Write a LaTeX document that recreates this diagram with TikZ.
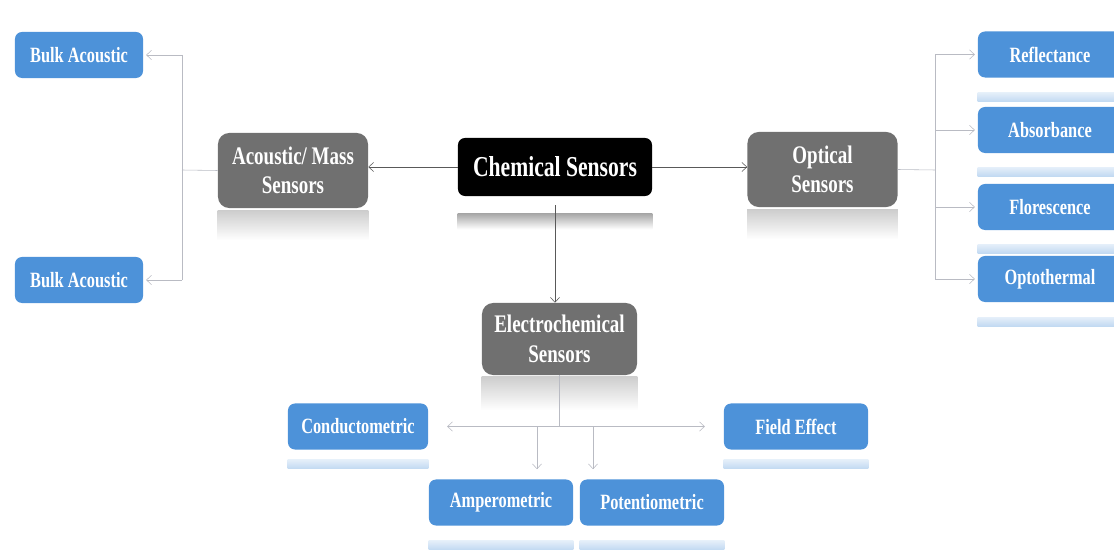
\documentclass[tikz,border=0pt]{standalone}
\usepackage{fontspec}
\newfontfamily\boxfont{Liberation Serif}[FakeStretch=0.75]
\usetikzlibrary{calc,arrows.meta}

\definecolor{boxblue}{RGB}{77,146,217}
\definecolor{boxgray}{RGB}{112,112,112}
\definecolor{linkgray}{RGB}{185,187,195}

\tikzset{
  bluebox/.style={fill=boxblue, rounded corners=5pt, text=white, inner sep=0pt,
    font=\boxfont\bfseries\fontsize{15.5}{17}\selectfont,
    minimum width=3.6cm, minimum height=1.15cm},
  graybox/.style={fill=boxgray, rounded corners=8pt, text=white, align=center, inner sep=0pt,
    font=\boxfont\bfseries\fontsize{18}{21}\selectfont,
    minimum width=3.75cm, minimum height=1.875cm},
  mainlink/.style={draw=black!65, ->},
  sublink/.style={draw=linkgray, ->},
}

\begin{document}
\begin{tikzpicture}[x=0.025cm, y=-0.025cm, >={Straight Barb[length=3.5pt,width=6.5pt]}]
\useasboundingbox (0,0) rectangle (1114,551);

% centre and first level
\node[fill=black, rounded corners=5pt, text=white, inner sep=0pt,
      font=\boxfont\bfseries\fontsize{20.5}{24}\selectfont,
      minimum width=4.85cm, minimum height=1.45cm] (chem) at (555,167) {Chemical Sensors};
\node[graybox] (acou) at (293,170.5) {Acoustic/ Mass\\Sensors};
\node[graybox] (opt) at (822.5,169.5) {Optical\\Sensors};
\node[graybox, minimum width=3.875cm, minimum height=1.8cm] (elec) at (559.5,339) {Electrochemical\\Sensors};

% acoustic side
\node[bluebox, minimum width=3.2cm] (bulka) at (79,55) {Bulk Acoustic};
\node[bluebox, minimum width=3.2cm] (bulkb) at (79,280) {Bulk Acoustic};

% optical side
\node[bluebox] (refl) at (1050,54.5) {Reflectance};
\node[bluebox] (absorb) at (1050,130) {Absorbance};
\node[bluebox] (flor) at (1050,207) {Florescence};
\node[bluebox] (opto) at (1050,279) {Optothermal};

% electrochemical side
\node[bluebox, minimum width=3.5cm] (cond) at (358,426.5) {Conductometric};
\node[bluebox] (field) at (796,426.5) {Field Effect};
\node[bluebox] (amp) at (501,502.5) {Amperometric};
\node[bluebox] (pot) at (652,502.5) {Potentiometric};

% reflections
\foreach \n/\c/\g/\h in {chem/black/17/16, acou/boxgray/2/30, opt/boxgray/2/30, elec/boxgray/1/34}
  \shade[top color=\c!35, bottom color=white] ($(\n.south west)+(0,\g)$) rectangle ($(\n.south east)+(0,\g+\h)$);
\foreach \n/\g in {refl/15, absorb/14, flor/14, opto/15, cond/10, field/10, amp/15, pot/15}
  \shade[top color=boxblue!15, bottom color=boxblue!35] ($(\n.south west)+(0,\g)$) rectangle ($(\n.south east)+(0,\g+9)$);

% main arrows
\draw[mainlink] (chem.west) -- (chem.west -| acou.east);
\draw[mainlink] (chem.east) -- (chem.east -| opt.west);
\draw[mainlink] (chem.south) ++(0,9) -- (chem.south |- elec.north);

% acoustic branches
\coordinate (acj) at (182,170);
\draw[linkgray] (acou.west) -- (acj);
\draw[linkgray] (acj |- bulka) -- (acj |- bulkb);
\draw[sublink, shorten >=2pt] (acj |- bulka) -- (bulka.east);
\draw[sublink, shorten >=2pt] (acj |- bulkb) -- (bulkb.east);

% optical branches
\coordinate (opj) at (935,170);
\draw[linkgray] (opt.east) -- (opj);
\draw[linkgray] (opj |- refl) -- (opj |- opto);
\foreach \n in {refl,absorb,flor,opto}
  \draw[sublink, shorten >=2pt] (opj |- \n) -- (\n.west);

% electrochemical branches
\draw[linkgray] (elec.south) -- (elec.south |- cond.east);
\draw[sublink, <->, shorten <=0.47cm, shorten >=0.47cm] (cond.east) -- (field.west);
\coordinate (ampj) at (537,427);
\coordinate (potj) at (593,427);
\draw[sublink, shorten >=0.25cm] (ampj) -- (ampj |- amp.north);
\draw[sublink, shorten >=0.25cm] (potj) -- (potj |- pot.north);
\end{tikzpicture}
\end{document}
